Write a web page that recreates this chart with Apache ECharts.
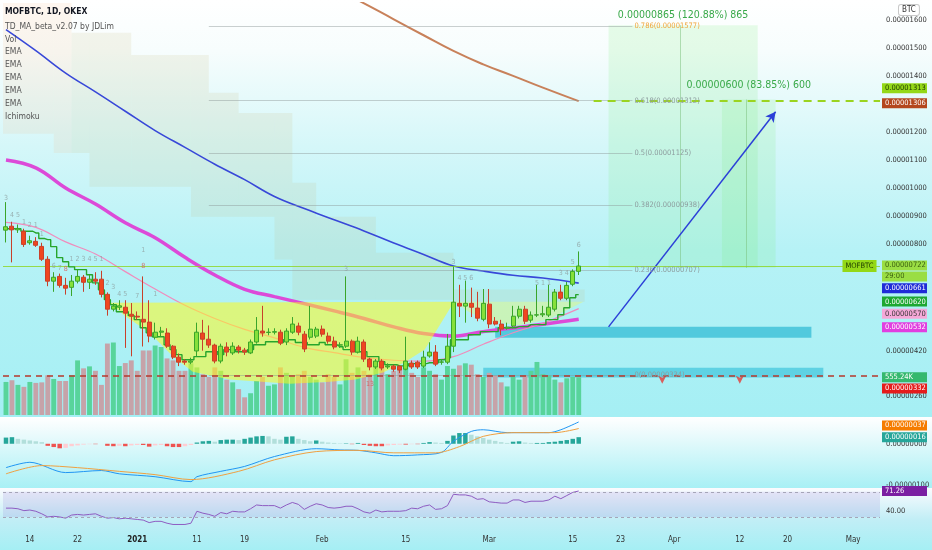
<!DOCTYPE html>
<html><head><meta charset="utf-8">
<script src="https://cdn.jsdelivr.net/npm/echarts/dist/echarts.min.js"></script>
<style>html,body{margin:0;padding:0;background:#fff}#c{width:932px;height:550px}</style>
</head><body><div id="c"></div>
<script>
const FONT = "'Liberation Sans Narrow','DejaVu Sans Condensed','Liberation Sans',Arial,sans-serif";

// ---------- categories (daily) ----------
const firstDay = Date.UTC(2020, 11, 10);
const dates = [];
for (let k = 0; k < 147; k++) dates.push(new Date(firstDay + k * 86400000).toISOString().slice(0, 10));

const tickDates = ['2020-12-14','2020-12-22','2021-01-01','2021-01-11','2021-01-19','2021-02-01','2021-02-15','2021-03-01','2021-03-15','2021-03-23','2021-04-01','2021-04-12','2021-04-20','2021-05-01'];
const tickText  = ['14','22','2021','11','19','Feb','15','Mar','15','23','Apr','12','20','May'];
const priceTicks = [1600,1500,1400,1200,1100,1000,900,800,420,260]; // x1e-8 BTC

// ---------- candles [open, close, low, high] (x1e-8 BTC) ----------
const ohlc = [
[850,862,806,950],[864,851,735,880],[851,856,840,870],[846,799,790,855],[805,812,798,830],
[810,796,790,825],[792,746,740,805],[746,668,650,757],[668,682,630,700],[685,653,645,695],
[653,643,620,680],[646,668,615,690],[668,685,660,710],[682,664,630,690],[664,675,640,690],
[675,668,655,700],[675,621,610,705],[621,568,545,628],[568,579,560,590],[575,580,565,600],
[575,554,430,600],[550,543,400,590],[543,540,530,560],[532,522,435,685],[522,472,450,600],
[468,486,460,520],[486,490,470,505],[483,436,430,500],[436,397,390,440],[397,379,365,410],
[383,379,370,390],[379,383,372,395],[419,486,400,520],[483,461,420,530],[461,440,430,510],
[440,383,375,445],[383,436,375,445],[433,415,400,450],[412,436,405,450],[433,422,410,440],
[422,415,405,430],[412,451,408,460],[451,493,445,540],[490,483,470,580],[485,486,475,500],
[486,488,478,500],[486,447,440,495],[451,490,440,500],[486,515,480,540],[508,486,475,520],
[479,426,415,490],[468,497,460,580],[472,497,465,505],[497,479,470,510],[472,454,445,485],
[454,433,425,470],[440,441,430,450],[436,454,430,685],[454,415,405,460],[415,454,410,470],
[451,390,380,460],[390,362,350,395],[362,383,355,390],[383,358,350,390],[362,365,355,375],
[365,354,345,370],[365,351,340,368],[354,383,350,470],[376,362,355,385],[379,362,355,385],
[365,397,358,420],[401,415,395,450],[415,372,365,440],[379,380,370,390],[379,436,372,480],
[436,593,415,720],[589,579,540,655],[579,589,520,670],[589,575,540,645],[572,536,525,630],
[532,589,525,640],[586,515,500,640],[525,515,510,540],[515,497,475,530],[500,504,495,520],
[508,543,500,580],[543,568,535,580],[568,525,515,580],[529,547,520,560],[547,548,540,655],
[548,552,540,580],[547,575,540,655],[568,629,560,640],[629,607,600,655],[607,653,600,665],
[657,703,650,710],[703,722,690,774]
];

// ---------- volume (K) ----------
const volume = [486,511,443,414,486,472,480,584,530,500,500,584,803,686,715,650,443,1051,1066,720,
764,803,650,949,949,1022,1000,832,803,650,650,760,700,600,560,700,650,520,480,380,
260,320,500,560,430,450,700,620,560,600,650,560,520,480,600,560,450,820,620,700,
650,600,720,680,600,650,720,760,620,560,700,650,600,520,720,680,730,760,740,600,
560,620,580,480,420,560,520,580,650,780,600,580,520,480,540,560,555.24];

// ---------- stepped TD MA line ----------
const stepLine = [855,855,855,846,846,840,820,816,791,752,737,719,709,709,691,662,637,602,584,559,
559,545,531,502,484,470,470,441,424,406,388,388,399,399,416,416,406,424,424,416,
416,424,441,441,452,452,449,459,459,449,449,441,441,449,441,441,434,424,424,416,
416,399,399,381,370,370,366,366,374,374,374,377,377,388,395,459,459,459,477,477,
488,488,488,502,502,502,506,506,513,513,513,531,531,548,573,609,620];

// ---------- EMAs (read at day indices) ----------
const emaIdx = [0,5,10,15,20,25,30,35,40,45,50,55,60,65,70,75,80,85,90,96];
const emaBlue    = [1565,1490,1410,1343,1274,1205,1145,1085,1030,970,927,887,847,804,763,722,704,689,679,661];
const emaMagenta = [1100,1072,1000,943,876,823,753,690,639,613,588,562,535,505,481,472,488,501,514,532];
const emaPink    = [878,860,808,765,702,640,582,535,496,466,432,413,396,386,383,399,443,484,518,570];
const brownIdx = [46,52,59,65,70,75,80,85,90,96];
const emaBrown = [1810,1745,1670,1602,1545,1489,1441,1400,1358,1310];

// ---------- MACD ----------
const macdHist = [15,16,12,10,8,6,4,-5,-8,-11,-10,-6,-4,-2,-1,-1,0,-5,-6,-5,
-6,-4,-3,-3,-7,-4,-3,-6,-8,-8,-6,-3,3,6,7,5,9,10,10,9,
12,15,18,19,18,12,10,17,18,12,9,6,8,5,3,2,1,1,-1,2,
-3,-5,-6,-6,-4,-3,-2,-2,-1,-1,2,4,3,2,7,20,26,26,22,18,
14,10,7,4,2,5,6,3,2,2,2,4,5,7,9,12,16];
const macdIdx = [0,4,10,16,19,25,31,32,36,40,45,52,56,59,62,65,69,73,75,78,80,84,87,91,93,96];
const macdVal = [-58,-45,-70,-65,-73,-80,-92,-80,-67,-55,-31,-12,-15,-16,-22,-29,-27,-21,6,30,34,27,27,27,34,53];
const signalIdx = [0,6,12,19,25,31,39,45,52,59,65,72,76,80,85,92,96];
const signalVal = [-73,-53,-58,-67,-75,-87,-67,-39,-19,-16,-22,-22,-7,18,27,27,37];

// ---------- RSI ----------
const rsi = [44,44,43,40,41,39,35,30,31,30,28,33,34,33,34,35,31,28,29,27,
28,27,26,25,21,23,23,20,18,18,18,20,39,36,34,31,37,35,39,38,
38,43,49,48,48,48,44,49,53,50,42,47,51,49,45,44,45,47,47,43,
38,36,41,38,39,39,39,40,44,43,47,49,42,43,48,66,65,65,63,58,
59,54,53,52,52,57,57,53,55,55,55,57,63,59,64,69,71.26];

// ---------- TD sequential counts (day index, price position, text) ----------
const tdIdx  = [0,1,2,3,4,5,6,8,9,10,11,12,13,14,15,16,17,18,19,20,22,23,23,25,57,61,75,76,77,78,89,90,91,93,94,95,96];
const tdPos  = [965,905,905,880,869,869,834,723,716,712,745,745,745,745,745,745,662,645,620,620,616,780,723,620,712,299,737,677,677,677,662,662,662,698,698,737,798];
const tdText = ['3','4','5','1','2','1','1','6','7','8','1','2','3','4','5','1','2','3','4','5','7','1','8','1','3','13','3','4','5','6','5','1','1','3','4','5','6'];

// ---------- Ichimoku cloud (step intervals, day index) ----------
const cloudFrom  = [-1, 8, 11, 14, 21, 31, 34, 39, 45, 48, 52, 62, 75];
const cloudTo    = [ 8, 11, 14, 21, 31, 34, 39, 45, 48, 52, 62, 75, 97];
const cloudUpper = [1700,1700,1554,1554,1475,1475,1340,1268,1268,1019,898,769,638];
const cloudLower = [1194,1125,1125,1005,1005,898,898,898,745,602,602,602,595];

// ---------- drawings ----------
const cupIdx = [17.4,19.9,24.1,28,31.3,37.5,47.6,54.3,58.6,63.2,66.7,70.2,75.1];
const cupVal = [591,545,484,399,345,317,302,309,317,342,377,424,595];
const handleIdx = [75.1,77.5,80.9,85.9,91,96.8];
const handleVal = [595,560,525,511,532,595];
const fibLevels = [0,0.236,0.382,0.5,0.618,0.786];
const fibPrices = [334,707,938,1125,1312,1577];
const rangeLow = 715.6, rangeHigh1 = 1580.6, rangeHigh2 = 1315.6;
const zoneA = [505,466], zoneB = [359,324];
const supportLine = 332, targetLine = 1313;
const arrowFrom = [101,505], arrowTo = [129,1272];
const downMarks = [[110,302],[123,302]];

// ---------- helpers ----------
const fmt = v => (v / 1e8).toFixed(8);
function badgeLabel(lines, bg, fg, dy) {
  const body = lines.map(t => '{bx|' + t + '}').join('\n');
  let txt = body;
  if (dy > 0) txt = '{ex| }\n' + body; else if (dy < 0) txt = body + '\n{ex| }';
  const h = Math.max(1, Math.abs(dy) * 2);
  return {show:true, position:'end', distance:2, formatter: txt,
    rich:{bx:{backgroundColor:bg, color:fg, fontSize:7.5, fontFamily:FONT, padding:[1,2,1,3], lineHeight:11, width:40},
          ex:{height:h, lineHeight:h, fontSize:1}}};
}
function badge(v, bg, fg, dy, lineStyle, lines) {
  return {yAxis: v, lineStyle: lineStyle || {color:'rgba(0,0,0,0)', width:0},
    label: badgeLabel(lines || [fmt(v)], bg, fg, dy)};
}
const pairs = (idx, vals) => idx.map((i, k) => [i, vals[k]]);
const lg = (stops) => ({type:'linear', x:0, y:0, x2:0, y2:1, colorStops: stops.map(s => ({offset:s[0], color:s[1]}))});

const L = 3, R = 52;
const catAxis = (gi, labels) => ({
  type:'category', gridIndex:gi, data:dates, boundaryGap:true,
  axisLine:{show:false}, axisTick:{show:false}, splitLine:{show:false},
  axisLabel: labels ? {
    show:true, margin:9, fontSize:8, fontFamily:FONT, color:'#333',
    interval:(idx, val) => tickDates.indexOf(val) >= 0,
    formatter:(val) => { const t = tickText[tickDates.indexOf(val)]; return t === '2021' ? '{bd|2021}' : t; },
    rich:{bd:{fontWeight:'bold', fontSize:8, fontFamily:FONT, color:'#222'}}
  } : {show:false}
});
const valAxisX = (gi) => ({type:'value', gridIndex:gi, min:-0.5, max:146.5, show:false});
const yBase = {type:'value', position:'right', axisLine:{show:false}, axisTick:{show:false}, splitLine:{show:false}};
const yLab = (f) => ({margin:6, fontSize:7.5, fontFamily:FONT, color:'#333', formatter:f});

const volUp = '#58d49b', volDown = '#c6a3a9';
const histColor = (k) => {
  const v = macdHist[k], p = k > 0 ? macdHist[k-1] : v;
  if (v >= 0) return v >= p ? '#26a69a' : '#b2dfdb';
  return v <= p ? '#ef5350' : '#ffcdd2';
};

const option = {
  animation:false,
  textStyle:{fontFamily:FONT},
  title:{
    text:'MOFBTC, 1D, OKEX', left:5, top:7, padding:0, itemGap:3,
    textStyle:{fontSize:8.5, fontWeight:'bold', color:'#131722', fontFamily:FONT, lineHeight:10},
    subtext:'TD_MA_beta_v2.07 by JDLim\nVol\nEMA\nEMA\nEMA\nEMA\nEMA\nIchimoku',
    subtextStyle:{fontSize:8.5, color:'#555', fontFamily:FONT, lineHeight:12.9}
  },
  graphic:[
    {type:'rect', z:-10, silent:true, shape:{x:0,y:0,width:932,height:417},
      style:{fill: lg([[0,'#ffffff'],[0.12,'#f7fdfd'],[0.35,'#d5f7f9'],[0.6,'#b6f2f6'],[1,'#a5eff4']])}},
    {type:'rect', z:-10, silent:true, shape:{x:0,y:417,width:932,height:71},
      style:{fill: lg([[0,'#ffffff'],[0.15,'#f3fcfd'],[1,'#a8f0f5']])}},
    {type:'rect', z:-10, silent:true, shape:{x:0,y:488,width:932,height:62},
      style:{fill: lg([[0,'#fbfbfe'],[0.5,'#c2eef6'],[1,'#a5eff4']])}},
    {type:'text', z:10, left:898, top:4, silent:true,
      style:{text:'BTC', fontSize:8, fontFamily:FONT, fill:'#333', backgroundColor:'#ffffff', borderColor:'#c8c8c8', borderWidth:1, borderRadius:2, padding:[1,3]}}
  ],
  grid:[
    {left:L, right:R, top:3, height:415, outerBoundsMode:'none'},
    {left:L, right:R, top:330, height:85, outerBoundsMode:'none'},
    {left:L, right:R, top:417, height:70, outerBoundsMode:'none'},
    {left:L, right:R, top:488, height:39, outerBoundsMode:'none'}
  ],
  xAxis:[catAxis(0), catAxis(1), catAxis(2), catAxis(3, true), valAxisX(0), valAxisX(2)],
  yAxis:[
    Object.assign({}, yBase, {gridIndex:0, min:180, max:1660, interval:20,
      axisLabel: yLab(v => priceTicks.indexOf(v) >= 0 ? fmt(v) : '')}),
    Object.assign({}, yBase, {gridIndex:1, min:0, max:1250, axisLabel:{show:false}}),
    Object.assign({}, yBase, {gridIndex:2, min:-105, max:65, interval:5,
      axisLabel: yLab(v => (v === 0 || v === -100) ? fmt(v) : '')}),
    Object.assign({}, yBase, {gridIndex:3, min:14, max:76, interval:2,
      axisLabel: yLab(v => v === 40 ? '40.00' : '')})
  ],
  series:[
    // volume
    {type:'bar', name:'Vol', xAxisIndex:1, yAxisIndex:1, barWidth:'82%', z:1, silent:true,
      data: volume.map((v,k) => ({value:v, itemStyle:{color: ohlc[k][1] >= ohlc[k][0] ? volUp : volDown}})),
      markLine:{silent:true, symbol:['none','none'], data:[badge(555.24, '#35b86e', '#fff', 0, null, ['555.24K'])]}},
    // Ichimoku cloud
    {type:'custom', name:'Ichimoku', xAxisIndex:4, yAxisIndex:0, z:2, silent:true, clip:true,
      data: cloudFrom.map((b,k) => [b, cloudTo[k], cloudUpper[k], cloudLower[k]]),
      encode:{x:[0,1], y:[2,3]},
      renderItem:(params, api) => {
        const p0 = api.coord([api.value(0), api.value(2)]);
        const p1 = api.coord([api.value(1), api.value(3)]);
        return {type:'rect', shape:{x:p0[0], y:p0[1], width:p1[0]-p0[0], height:p1[1]-p0[1]},
          style:{fill: params.dataIndex < 2 ? 'rgba(255,165,100,0.10)' : 'rgba(200,185,120,0.14)'}};
      }},
    // EMAs
    {type:'line', name:'EMA200', xAxisIndex:4, yAxisIndex:0, z:3, silent:true, smooth:0.5, symbol:'none',
      data:pairs(brownIdx, emaBrown), lineStyle:{color:'#c8815a', width:2},
      markLine:{silent:true, symbol:['none','none'], data:[badge(1306, '#b4471e', '#fff', 1)]}},
    {type:'line', name:'EMA100', xAxisIndex:4, yAxisIndex:0, z:3, silent:true, smooth:0.4, symbol:'none',
      data:pairs(emaIdx, emaBlue), lineStyle:{color:'#3848d8', width:1.6},
      markLine:{silent:true, symbol:['none','none'], data:[badge(661, '#1f2bd8', '#fff', 5)]}},
    {type:'line', name:'EMA50', xAxisIndex:4, yAxisIndex:0, z:3, silent:true, smooth:0.4, symbol:'none',
      data:pairs(emaIdx, emaMagenta), lineStyle:{color:'#dc4ad8', width:3.5},
      markLine:{silent:true, symbol:['none','none'], data:[badge(532, '#e13ee0', '#fff', 8)]}},
    {type:'line', name:'EMA21', xAxisIndex:4, yAxisIndex:0, z:3, silent:true, smooth:0.4, symbol:'none',
      data:pairs(emaIdx, emaPink), lineStyle:{color:'#f08cbc', width:1.2},
      markLine:{silent:true, symbol:['none','none'], data:[badge(570, '#f6a8d8', '#333', 5)]}},
    // cup & handle
    {type:'custom', name:'cup', xAxisIndex:4, yAxisIndex:0, z:4, silent:true, clip:true,
      data: pairs(cupIdx, cupVal), encode:{x:0, y:1},
      renderItem:(params, api) => {
        if (params.dataIndex !== 0) return;
        const cup = cupIdx.map((i,k) => api.coord([i, cupVal[k]]));
        const han = handleIdx.map((i,k) => api.coord([i, handleVal[k]]));
        return {type:'group', children:[
          {type:'polygon', shape:{points:cup}, style:{fill:'rgba(255,250,30,0.55)'}},
          {type:'polygon', shape:{points:han}, style:{fill:'rgba(255,250,60,0.32)'}}
        ]};
      }},
    // drawings: fib, ranges, zones, arrow, lines
    {type:'line', name:'drawings', xAxisIndex:4, yAxisIndex:0, z:4, silent:true, data:[],
      markArea:{silent:true, data:[
        [{coord:[101, rangeHigh1], itemStyle:{color:'rgba(120,235,120,0.16)'},
          label:{show:true, position:'top', distance:4, color:'#39a949', fontSize:10.5, fontFamily:FONT,
            formatter: fmt(rangeHigh1-rangeLow) + ' (' + ((rangeHigh1-rangeLow)/rangeLow*100).toFixed(2) + '%) ' + Math.round(rangeHigh1-rangeLow)}},
         {coord:[126, rangeLow]}],
        [{coord:[120, rangeHigh2], itemStyle:{color:'rgba(120,235,120,0.16)'},
          label:{show:true, position:'top', distance:9, color:'#39a949', fontSize:10.5, fontFamily:FONT,
            formatter: fmt(rangeHigh2-rangeLow) + ' (' + ((rangeHigh2-rangeLow)/rangeLow*100).toFixed(2) + '%) ' + Math.round(rangeHigh2-rangeLow)}},
         {coord:[129, rangeLow]}],
        [{coord:[82, zoneA[0]], itemStyle:{color:'rgba(20,175,205,0.6)'}}, {coord:[135, zoneA[1]]}],
        [{coord:[80, zoneB[0]], itemStyle:{color:'rgba(20,180,210,0.5)'}}, {coord:[137, zoneB[1]]}]
      ]},
      markLine:{silent:true, symbol:['none','none'], data:
        fibLevels.map((lv,k) => [
          {coord:[34, fibPrices[k]], lineStyle:{color:'rgba(140,150,150,0.45)', width:1, type:'solid'},
            label:{show:true, position:'end', distance:2, fontSize:7.5, fontFamily:FONT,
              color: lv === 0.786 ? '#f0a53a' : '#8d9c9e', formatter: lv + '(' + fmt(fibPrices[k]) + ')'}},
          {coord:[105, fibPrices[k]]}
        ]).concat([
          [{coord:[113, rangeLow], lineStyle:{color:'rgba(120,190,120,0.5)', width:1, type:'solid'}, label:{show:false}}, {coord:[113, rangeHigh1]}],
          [{coord:[124, rangeLow], lineStyle:{color:'rgba(120,190,120,0.5)', width:1, type:'solid'}, label:{show:false}}, {coord:[124, rangeHigh2]}],
          [{coord:arrowFrom, symbol:'none', lineStyle:{color:'#2b3fd8', width:1.5, type:'solid'}, label:{show:false}},
           {coord:arrowTo, symbol:'arrow', symbolSize:[8,10]}],
          [{coord:[98.5, targetLine], lineStyle:{color:'#9bd420', width:2, type:[8,6]}, label: badgeLabel([fmt(targetLine)], '#94d817', '#1e3a00', -12)},
           {coord:[146.5, targetLine]}],
          badge(supportLine, '#e51c1c', '#fff', 13, {color:'#b5382c', width:1.6, type:[6,5]})
        ])}},
    {type:'scatter', name:'marks', xAxisIndex:4, yAxisIndex:0, z:6, silent:true, data:downMarks,
      symbol:'arrow', symbolRotate:180, symbolSize:[6,8], itemStyle:{color:'#e53935'}},
    // TD sequential counts
    {type:'scatter', name:'TD', xAxisIndex:4, yAxisIndex:0, z:6, silent:true, symbolSize:0,
      data: pairs(tdIdx, tdPos).map((p,k) => ({value:p,
        label:{color: (tdText[k] === '8' || tdText[k] === '13') ? '#d9534f' : '#8fa0a0'}})),
      label:{show:true, position:'inside', fontSize:7, fontFamily:FONT,
        formatter: p => tdText[p.dataIndex]},
      labelLayout:{hideOverlap:false}},
    // TD MA step line
    {type:'line', name:'TD_MA', xAxisIndex:0, yAxisIndex:0, z:5, silent:true, step:'middle', symbol:'none',
      data:stepLine, lineStyle:{color:'#27a52c', width:1.4},
      markLine:{silent:true, symbol:['none','none'], data:[badge(620, '#1ea832', '#fff', 7)]}},
    // candles
    {type:'candlestick', name:'MOFBTC', xAxisIndex:0, yAxisIndex:0, z:6, silent:true, barWidth:4.5, data:ohlc,
      itemStyle:{color:'#86e03a', color0:'#f0461f', borderColor:'#3aa52a', borderColor0:'#c8402a', borderWidth:1},
      markLine:{silent:true, symbol:['none','none'], data:[
        badge(722, '#94d817', '#1e3a00', 5, {color:'#8fd420', width:1, type:'solid', opacity:0.8}, [fmt(722), '29:00'])]},
      markPoint:{silent:true, symbol:'rect', symbolSize:[1,1], itemStyle:{color:'rgba(0,0,0,0)'},
        data:[{coord:[146, 722], label:{show:true, position:'left', distance:0, formatter:'MOFBTC',
          backgroundColor:'#94d817', color:'#1e3a00', fontSize:7.5, fontFamily:FONT, padding:[2,3,2,3]}}]}},
    // MACD
    {type:'bar', name:'hist', xAxisIndex:2, yAxisIndex:2, barWidth:'75%', silent:true,
      data: macdHist.map((v,k) => ({value:v, itemStyle:{color:histColor(k)}})),
      markLine:{silent:true, symbol:['none','none'], data:[badge(16, '#26a69a', '#fff', 0)]}},
    {type:'line', name:'MACD', xAxisIndex:5, yAxisIndex:2, silent:true, smooth:0.3, symbol:'none',
      data:pairs(macdIdx, macdVal), lineStyle:{color:'#2196f3', width:1}},
    {type:'line', name:'Signal', xAxisIndex:5, yAxisIndex:2, silent:true, smooth:0.3, symbol:'none',
      data:pairs(signalIdx, signalVal), lineStyle:{color:'#f0a040', width:1},
      markLine:{silent:true, symbol:['none','none'], data:[badge(37, '#f57c00', '#fff', -3)]}},
    // RSI
    {type:'line', name:'RSI', xAxisIndex:3, yAxisIndex:3, silent:true, symbol:'none', data:rsi,
      lineStyle:{color:'#8e5cc2', width:1}, z:3,
      markArea:{silent:true, itemStyle:{color:'rgba(130,95,205,0.14)'}, data:[[{yAxis:70},{yAxis:30}]]},
      markLine:{silent:true, symbol:['none','none'], data:[
        {yAxis:70, lineStyle:{color:'#a5a5b8', width:1, type:[3,3]}, label:{show:false}},
        {yAxis:30, lineStyle:{color:'#a5a5b8', width:1, type:[3,3]}, label:{show:false}},
        badge(71.26, '#7b1fa2', '#fff', 0, null, ['71.26'])]}}
  ]
};
const chart = echarts.init(document.getElementById('c'));
chart.setOption(option);
</script></body></html>
